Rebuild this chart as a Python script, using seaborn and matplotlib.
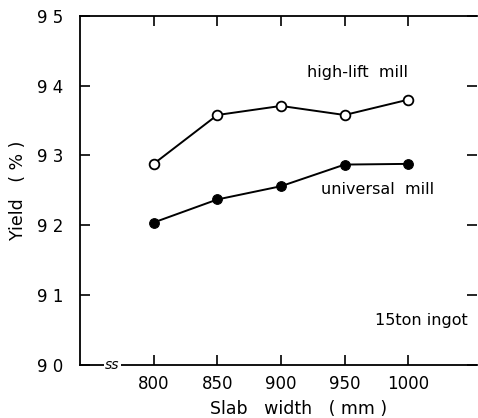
import matplotlib
matplotlib.use("Agg")
import matplotlib.pyplot as plt
import seaborn as sns
import pandas as pd

widths = [800, 850, 900, 950, 1000]
high_lift = [92.88, 93.58, 93.71, 93.58, 93.80]
universal = [92.04, 92.37, 92.56, 92.87, 92.88]
y_ticks = [90, 91, 92, 93, 94, 95]

sns.set_theme(style="white")
plt.rcParams['font.family'] = ['DejaVu Sans']
plt.rcParams['text.color'] = 'black'
plt.rcParams['axes.labelcolor'] = 'black'

df = pd.DataFrame({
    "width": widths * 2,
    "yield": high_lift + universal,
    "mill": ["high-lift mill"] * 5 + ["universal mill"] * 5,
})

fig = plt.figure(figsize=(4.78, 4.18), dpi=100)
ax = fig.add_axes([0.167, 0.127, 0.831, 0.835])

sns.lineplot(data=df[df.mill == "high-lift mill"], x="width", y="yield", ax=ax,
             color="black", lw=1.4, marker="o", markersize=7,
             markerfacecolor="white", markeredgecolor="black", markeredgewidth=1.3)
sns.lineplot(data=df[df.mill == "universal mill"], x="width", y="yield", ax=ax,
             color="black", lw=1.4, marker="o", markersize=7,
             markerfacecolor="black", markeredgecolor="black")

ax.set_xlim(742, 1054)
ax.set_ylim(90, 95)
ax.set_xticks(widths)
ax.set_yticks(y_ticks)
ax.set_xticklabels([str(w) for w in widths], fontsize=12)
ax.set_yticklabels([" ".join(str(v)) for v in y_ticks], fontsize=12)
ax.tick_params(axis="both", direction="in", length=7, width=1.2, colors="black",
               top=True, right=True, bottom=True, left=True)
ax.tick_params(axis="x", pad=7)
ax.tick_params(axis="y", pad=12)

for s in ["left", "bottom", "top"]:
    ax.spines[s].set_color("black")
    ax.spines[s].set_linewidth(1.3)
ax.spines["right"].set_visible(False)

ax.set_xlabel("Slab   width   ( mm )", fontsize=12.5, labelpad=5)
ax.xaxis.label.set_x(0.55)
ax.set_ylabel("Yield   ( % )", fontsize=12.5, labelpad=7)

ax.text(0.70, 0.825, "high-lift  mill", transform=ax.transAxes, ha="center", fontsize=11.5)
ax.text(0.75, 0.49, "universal  mill", transform=ax.transAxes, ha="center", fontsize=11.5)
ax.text(0.86, 0.115, "15ton ingot", transform=ax.transAxes, ha="center", fontsize=11.5)

ax.text(0.082, 0.0, "ss", transform=ax.transAxes, ha="center", va="center",
        fontsize=10, fontstyle="italic",
        bbox=dict(boxstyle="square,pad=0.1", fc="white", ec="none"))

fig.savefig("out.png", dpi=100)
